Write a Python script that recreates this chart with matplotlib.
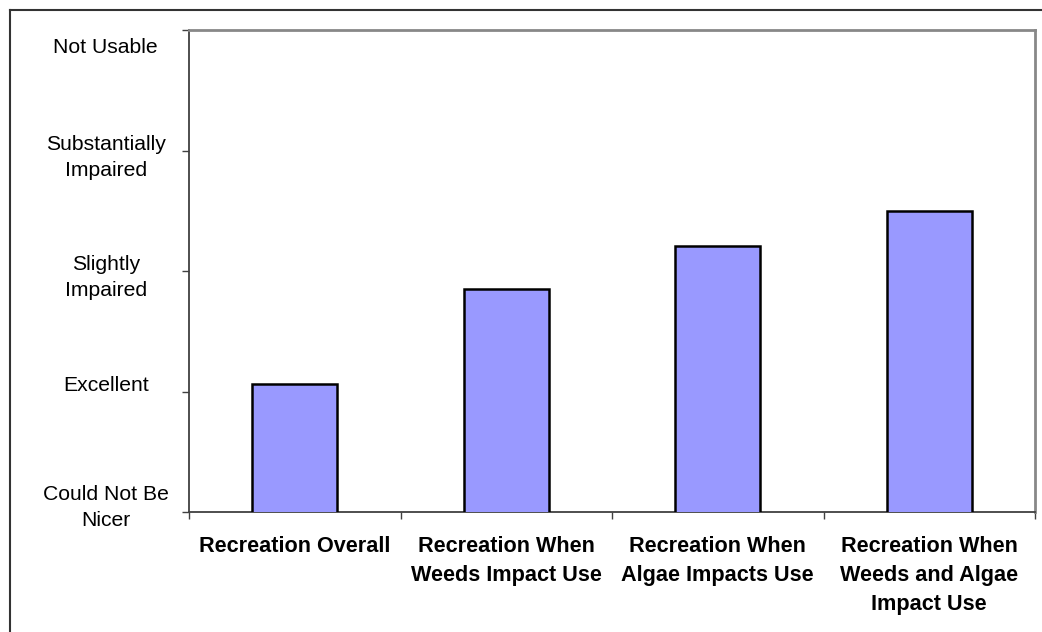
"""Recreation usability ratings bar chart."""

import numpy as np
import matplotlib
matplotlib.use('Agg')  # Non-interactive backend
import matplotlib.pyplot as plt
from matplotlib.lines import Line2D
from matplotlib.transforms import ScaledTranslation

plt.rcParams['font.family'] = ['Liberation Sans', 'DejaVu Sans']

# Data
categories = [
    'Recreation Overall',
    'Recreation When\nWeeds Impact Use',
    'Recreation When\nAlgae Impacts Use',
    'Recreation When\nWeeds and Algae\nImpact Use',
]
ratings = [2.06, 2.85, 3.21, 3.50]

rating_levels = [1, 2, 3, 4, 5]
rating_labels = [
    'Could Not Be\nNicer',
    'Excellent',
    'Slightly\nImpaired',
    'Substantially\nImpaired',
    'Not Usable',
]
# vertical nudge of each y label (points, + is up), as the original sits them
label_nudge = [7.3, 6, -0.7, -1, -11]

W, H = 1042, 632
fig = plt.figure(figsize=(W / 100, H / 100), dpi=100)
ax = fig.add_axes([189 / W, (H - 512) / H, 846 / W, (512 - 30) / H])

x = np.arange(len(categories))
ax.bar(x, ratings, width=0.40, color='#9999FF', edgecolor='black', linewidth=1.8, zorder=3)

ax.set_xlim(-0.5, len(categories) - 0.5)
ax.set_ylim(1, 5)

# y axis: rating scale
ax.set_yticks(rating_levels)
ax.set_yticklabels(rating_labels, fontsize=15.2, ha='center', multialignment='center',
                   linespacing=1.45)
ax.tick_params(axis='y', direction='out', length=5, width=1, color='#404040', pad=55)
for lbl, dy in zip(ax.get_yticklabels(), label_nudge):
    lbl.set_transform(lbl.get_transform() + ScaledTranslation(0, dy / 72, fig.dpi_scale_trans))

# x axis: ticks at category boundaries, labels at centres
ax.set_xticks(np.arange(len(categories) + 1) - 0.5)
ax.set_xticklabels([])
ax.tick_params(axis='x', which='major', direction='out', length=5, width=1, color='#404040')
ax.set_xticks(x, minor=True)
ax.set_xticklabels(categories, minor=True, fontsize=15.6, fontweight='bold',
                   linespacing=1.5)
ax.tick_params(axis='x', which='minor', length=0, pad=17.5)

for side in ('left', 'bottom'):
    ax.spines[side].set_color('#404040')
    ax.spines[side].set_linewidth(1.3)
for side in ('top', 'right'):
    ax.spines[side].set_color('#888888')
    ax.spines[side].set_linewidth(2)

# outer chart border (only top and left visible in the crop)
fig.add_artist(Line2D([10 / W, 10 / W], [0, 1 - 10 / H], color='#333333', linewidth=1.5))
fig.add_artist(Line2D([10 / W, 1], [1 - 10 / H, 1 - 10 / H], color='#333333', linewidth=1.5))

plt.savefig('out.png', dpi=100)
plt.close(fig)
